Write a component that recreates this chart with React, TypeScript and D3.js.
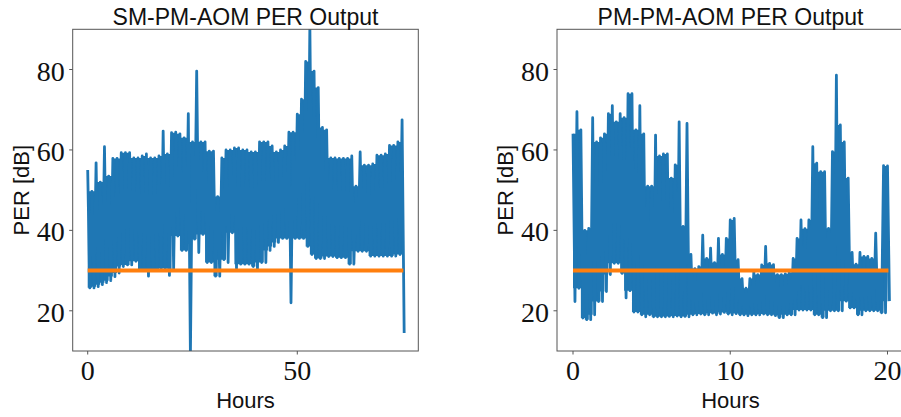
import React from 'react';
import * as d3 from 'd3';

// ---- data ----
// SM-PM-AOM: envelope per 1-hour bin (upper, lower) in dB
const smStep = 1;
const smHigh = [55, 49.7, 56.8, 52, 60.8, 53.5, 57.9, 57.9, 59.3, 59.3, 59.3, 58, 58, 58.5, 59, 58, 58, 58.5, 64.7, 59,
  64.3, 64.4, 64, 63, 69, 62, 79.6, 62, 62, 59.7, 59.7, 48.4, 58, 60, 60, 60.5, 60.5, 60, 60, 59.5,
  59.5, 62, 62, 62, 61, 59.5, 60, 61, 64.4, 64.4, 68.9, 72.6, 82, 91, 79.6, 75.5, 65.6, 65, 58, 58,
  57.9, 57.9, 57.9, 58.5, 51, 59.5, 56.2, 56.2, 56.5, 58.7, 58.7, 59, 61.1, 61.1, 62, 67.5];
const smLow = [25.7, 25.7, 26, 26.5, 27, 27.5, 28.5, 29.4, 31, 31.4, 31.4, 32.3, 30, 30, 28.6, 30, 30, 30, 30.5, 28.8,
  30.4, 38.6, 35, 35, 9, 37.8, 34.5, 39, 32, 32, 28.6, 28.6, 32.7, 32, 39.4, 30.5, 31.6, 31.6, 31.6, 31,
  30.4, 32, 32, 35, 36, 37, 38, 38, 22, 38, 38, 38, 36, 34, 33, 33, 33, 33.5, 33.5, 33.2,
  33.2, 33.2, 31.6, 31.6, 34.8, 34.8, 34.8, 33.6, 33.6, 33.6, 33.6, 33.6, 33.6, 33.6, 34, 14.5];
const smEnd = 75.3;

// PM-PM-AOM: envelope per 0.25-hour bin (upper, lower) in dB
const pmStep = 0.25;
const pmHigh = [64, 69.5, 65, 40, 40.5, 68, 62, 63, 64, 69, 71, 67, 69, 68, 74, 74, 65, 71, 64, 51,
  51, 63.7, 58.5, 59, 59, 53, 56.3, 67, 41, 66.6, 34, 30.5, 31, 38.8, 33, 35.6, 32, 38, 34, 38,
  42.6, 43, 32.7, 28, 25.6, 28, 29.8, 29, 31.4, 36, 31.8, 31.5, 29, 29, 29.2, 29.5, 33, 38, 42.6, 40.4,
  42.6, 60.8, 56.7, 54.6, 54.6, 40.5, 59.6, 78.6, 66.2, 62, 53, 34.5, 31.6, 34.5, 33.5, 33.5, 33, 39.3, 30, 56.1, 56];
const pmLow = [22.3, 25.6, 18.2, 17.8, 17.8, 19, 22.3, 22.3, 24.8, 29, 31.8, 31.8, 29.3, 23.2, 25, 19.7, 19.7, 19, 18.5, 19,
  18.5, 18.5, 18.5, 18.5, 18.6, 18.5, 18.7, 18.5, 18.6, 18.5, 19, 19, 19.2, 19, 19, 19.4, 19, 19.2, 19.6, 19.2,
  19, 19.3, 19, 19, 18.8, 19, 19, 19, 19.2, 19, 19, 18.8, 18.3, 18.3, 19, 19, 19, 20.2, 20.2, 20.2,
  20.2, 19, 19, 18.3, 18.3, 20, 20, 20, 20, 22.4, 20.7, 20.7, 19, 19, 20, 20, 20, 20, 19.5, 19.5, 22.4];
const pmEnd = 20.06;

const threshold = 30;
const yTicks = [20, 40, 60, 80];
const smXTicks = [0, 50];
const pmXTicks = [0, 10, 20];
const smTitle = 'SM-PM-AOM PER Output';
const pmTitle = 'PM-PM-AOM PER Output';

const BLUE = '#1f77b4';
const ORANGE = '#ff7f0e';
const SPINE = '#555555';
const SANS = '"Liberation Sans", Arial, sans-serif';
const SERIF = '"Liberation Serif", "Times New Roman", serif';

type PanelProps = {
  id: string;
  x0: number; x1: number; y0: number; y1: number;
  xDomain: [number, number];
  high: number[]; low: number[]; step: number; end: number;
  xTicks: number[]; title: string; ylabelX: number;
};

type Band = { t: number; top: number; bot: number };

function Panel(p: PanelProps) {
  const x = d3.scaleLinear().domain(p.xDomain).range([p.x0, p.x1]);
  const y = d3.scaleLinear().domain([10, 90]).range([p.y1, p.y0]);
  // zig-zag trace between upper and lower envelope
  const pts: [number, number][] = [];
  p.high.forEach((h, i) => {
    pts.push([i * p.step, h]);
    pts.push([i * p.step + p.step / 2, p.low[i]]);
  });
  const line = d3.line<[number, number]>().x(d => x(d[0])).y(d => y(d[1]));
  // dense body between neighbouring bins (spikes stay narrow)
  const bands: Band[] = [];
  for (let i = 0; i < p.high.length - 1; i++) {
    bands.push({
      t: i * p.step,
      top: Math.min(p.high[i], p.high[i + 1]),
      bot: Math.max(p.low[i], p.low[i + 1]),
    });
  }
  const last = p.high.length - 1;
  bands.push({ t: last * p.step, top: Math.min(p.high[last], p.high[last - 1]), bot: Math.max(p.low[last], p.low[last - 1]) });
  const area = d3.area<Band>()
    .x(d => x(d.t))
    .y0(d => y(d.bot))
    .y1(d => y(d.top))
    .curve(d3.curveStepAfter);
  const cx = (p.x0 + p.x1) / 2;
  const cy = (p.y0 + p.y1) / 2;
  return (
    <g>
      <defs>
        <clipPath id={p.id}>
          <rect x={p.x0} y={p.y0} width={p.x1 - p.x0} height={p.y1 - p.y0} />
        </clipPath>
      </defs>
      <g clipPath={`url(#${p.id})`}>
        <path d={area(bands) || ''} fill={BLUE} stroke="none" />
        <path d={line(pts) || ''} fill="none" stroke={BLUE} strokeWidth={2.8} strokeLinejoin="round" />
        <line x1={x(0)} x2={x(p.end)} y1={y(threshold)} y2={y(threshold)} stroke={ORANGE} strokeWidth={4} />
      </g>
      <rect x={p.x0} y={p.y0} width={p.x1 - p.x0} height={p.y1 - p.y0} fill="none" stroke={SPINE} strokeWidth={1} />
      {yTicks.map(t => (
        <g key={'y' + t}>
          <line x1={p.x0 - 3.5} x2={p.x0} y1={y(t)} y2={y(t)} stroke={SPINE} strokeWidth={1} />
          <text x={p.x0 - 8} y={y(t) + 11} textAnchor="end" fontFamily={SERIF} fontSize={28} fill="#111">{t}</text>
        </g>
      ))}
      {p.xTicks.map(t => (
        <g key={'x' + t}>
          <line x1={x(t)} x2={x(t)} y1={p.y1} y2={p.y1 + 3.5} stroke={SPINE} strokeWidth={1} />
          <text x={x(t)} y={380} textAnchor="middle" fontFamily={SERIF} fontSize={28} fill="#111">{t}</text>
        </g>
      ))}
      <text x={cx} y={25} textAnchor="middle" fontFamily={SANS} fontSize={23} fill="#111">{p.title}</text>
      <text x={cx} y={408} textAnchor="middle" fontFamily={SANS} fontSize={22} fill="#111">Hours</text>
      <text transform={`translate(${p.ylabelX},${cy}) rotate(-90)`} textAnchor="middle" fontFamily={SANS} fontSize={22} fill="#111">PER [dB]</text>
    </g>
  );
}

export default function App() {
  return (
    <svg width={901} height={417} style={{ position: 'absolute', left: 0, top: 0, background: '#fff' }}>
      <rect width={901} height={417} fill="#fff" />
      <Panel id="clipL" x0={72.7} x1={418.3} y0={29.3} y1={351} xDomain={[-3.58, 78.87]}
        high={smHigh} low={smLow} step={smStep} end={smEnd} xTicks={smXTicks} title={smTitle} ylabelX={28.5} />
      <Panel id="clipR" x0={557} x1={904} y0={29.3} y1={351} xDomain={[-1.018, 21.05]}
        high={pmHigh} low={pmLow} step={pmStep} end={pmEnd} xTicks={pmXTicks} title={pmTitle} ylabelX={512.5} />
    </svg>
  );
}
